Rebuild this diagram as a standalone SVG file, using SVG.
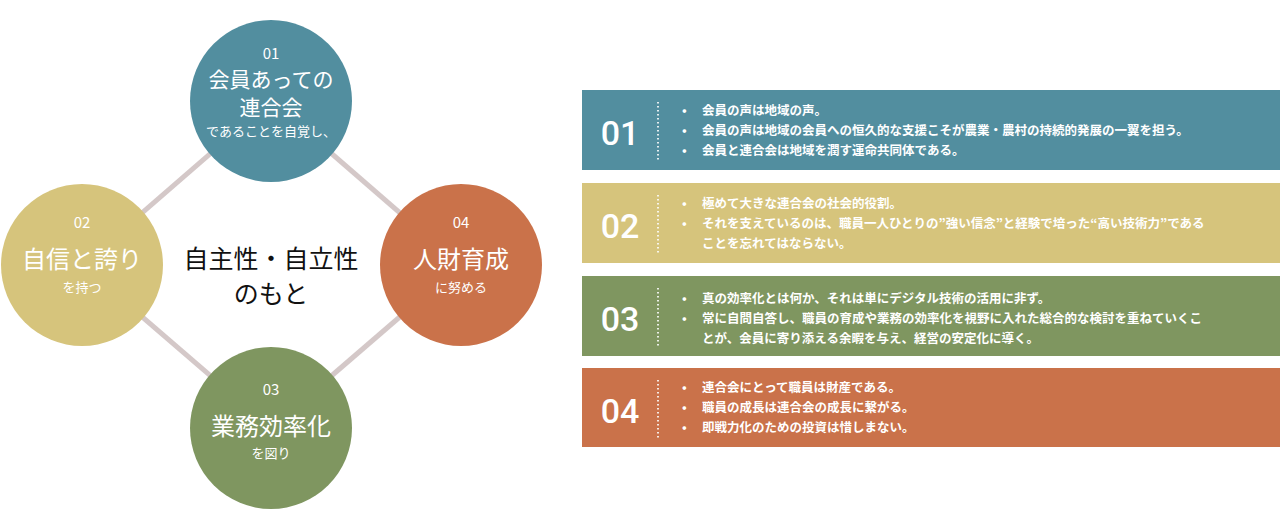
<svg xmlns="http://www.w3.org/2000/svg" width="1280" height="529" viewBox="0 0 1280 529">
<style>
text{font-family:"Noto Sans CJK JP","Noto Sans",sans-serif;}
.w{fill:#fff;text-anchor:middle}
.num{font-size:15px}
.big{font-size:24px}
.sm{font-size:13px}
.pn{font-family:"Roboto","Noto Sans",sans-serif;font-size:34px;fill:#fff;text-anchor:middle;font-weight:500}
.t{font-size:12.5px;fill:#fff;font-weight:bold}
.dot{stroke:#fff;stroke-width:2;stroke-dasharray:1.5 2.5;opacity:.85}
</style>
<rect width="1280" height="529" fill="#fff"/>
<g id="connectors" stroke="#D4C8C8" stroke-width="5">
<line x1="271" y1="101" x2="82" y2="265"/>
<line x1="271" y1="101" x2="460" y2="265"/>
<line x1="82" y1="265" x2="271" y2="428"/>
<line x1="460" y1="265" x2="271" y2="428"/>
</g>
<g id="n1"><circle cx="271" cy="101" r="81" fill="#528E9F"/>
<text class="w num" x="271" y="59">01</text>
<text class="w big" x="271" y="87" style="font-size:21px">会員あっての</text>
<text class="w big" x="271" y="115" style="font-size:21px">連合会</text>
<text class="w sm" x="271" y="136">であることを自覚し、</text></g>
<g id="n2"><circle cx="82" cy="265" r="81" fill="#D6C47C"/>
<text class="w num" x="82" y="228">02</text>
<text class="w big" x="82" y="268">自信と誇り</text>
<text class="w sm" x="82" y="292">を持つ</text></g>
<g id="n4"><circle cx="461" cy="265" r="81" fill="#CA724A"/>
<text class="w num" x="461" y="228">04</text>
<text class="w big" x="461" y="268">人財育成</text>
<text class="w sm" x="461" y="292">に努める</text></g>
<g id="n3"><circle cx="271" cy="428" r="81" fill="#7F9660"/>
<text class="w num" x="271" y="395">03</text>
<text class="w big" x="271" y="435">業務効率化</text>
<text class="w sm" x="271" y="458">を図り</text></g>
<g id="center"><text x="271" y="268" text-anchor="middle" font-size="25" fill="#111">自主性・自立性</text>
<text x="271" y="303" text-anchor="middle" font-size="25" fill="#111">のもと</text></g>
<g id="p1"><rect x="582" y="90" width="698" height="80" fill="#528E9F"/>
<text class="pn" x="620" y="145">01</text><line class="dot" x1="658" y1="102" x2="658" y2="160"/>
<text class="t" x="682" y="115">•<tspan x="702">会員の声は地域の声。</tspan></text>
<text class="t" x="682" y="135">•<tspan x="702">会員の声は地域の会員への恒久的な支援こそが農業・農村の持続的発展の一翼を担う。</tspan></text>
<text class="t" x="682" y="155">•<tspan x="702">会員と連合会は地域を潤す運命共同体である。</tspan></text></g>
<g id="p2"><rect x="582" y="183" width="698" height="80" fill="#D6C47C"/>
<text class="pn" x="620" y="238">02</text><line class="dot" x1="658" y1="195" x2="658" y2="253"/>
<text class="t" x="682" y="208">•<tspan x="702">極めて大きな連合会の社会的役割。</tspan></text>
<text class="t" x="682" y="228">•<tspan x="702">それを支えているのは、職員一人ひとりの”強い信念”と経験で培った“高い技術力”である</tspan></text>
<text class="t" x="702" y="248">ことを忘れてはならない。</text></g>
<g id="p3"><rect x="582" y="276" width="698" height="80" fill="#7F9660"/>
<text class="pn" x="620" y="331">03</text><line class="dot" x1="658" y1="288" x2="658" y2="346"/>
<text class="t" x="682" y="303">•<tspan x="702">真の効率化とは何か、それは単にデジタル技術の活用に非ず。</tspan></text>
<text class="t" x="682" y="323">•<tspan x="702">常に自問自答し、職員の育成や業務の効率化を視野に入れた総合的な検討を重ねていくこ</tspan></text>
<text class="t" x="702" y="343">とが、会員に寄り添える余暇を与え、経営の安定化に導く。</text></g>
<g id="p4"><rect x="582" y="368" width="698" height="79" fill="#CA724A"/>
<text class="pn" x="620" y="423">04</text><line class="dot" x1="658" y1="380" x2="658" y2="438"/>
<text class="t" x="682" y="392">•<tspan x="702">連合会にとって職員は財産である。</tspan></text>
<text class="t" x="682" y="412">•<tspan x="702">職員の成長は連合会の成長に繋がる。</tspan></text>
<text class="t" x="682" y="432">•<tspan x="702">即戦力化のための投資は惜しまない。</tspan></text></g>
</svg>
